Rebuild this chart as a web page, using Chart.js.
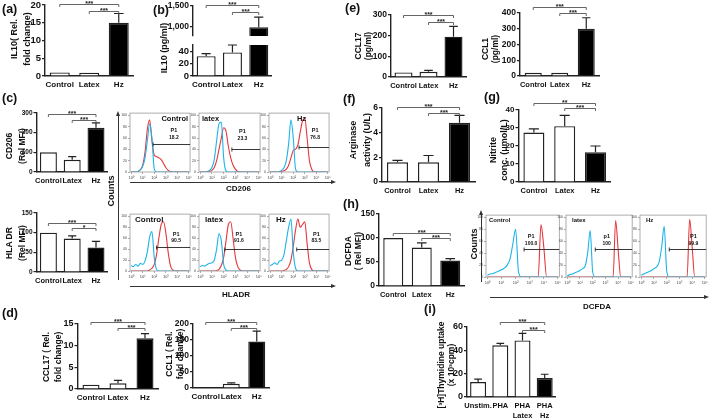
<!DOCTYPE html>
<html>
<head>
<meta charset="utf-8">
<script src="https://cdn.jsdelivr.net/npm/chart.js@4.4.1/dist/chart.umd.min.js"></script>
<style>
body { margin: 0; background: #fff; }
#fig { position: relative; width: 709px; height: 418px; overflow: hidden; font-family: "Liberation Sans", Arial, sans-serif; font-weight: bold; color: #111; }
#fig canvas { position: absolute; }
.txt { position: absolute; white-space: nowrap; line-height: 1; }
.ytitle { position: absolute; transform: translate(-50%, -50%) rotate(-90deg); text-align: center; white-space: nowrap; }
.ln { position: absolute; }
</style>
</head>
<body>
<div id="fig"></div>
<script>
// ---- data ----
const groups = ['Control', 'Latex', 'Hz'];
const il10Fold = [1.0, 0.9, 15.0];
const il10FoldSem = [0, 0, 2.6];
const il10Pg = [32, 38, 980];
const il10PgSem = [4, 12, 250];
const cd206Mfi = [100, 62, 225];
const cd206Sem = [0, 16, 25];
const hladrMfi = [100, 85, 62];
const hladrSem = [0, 7, 16];
const ccl17Fold = [1.0, 1.3, 11.7];
const ccl17FoldSem = [0, 0.7, 1.1];
const ccl1Fold = [1, 13, 145];
const ccl1FoldSem = [0, 3, 33];
const ccl17Pg = [22, 25, 195];
const ccl17PgSem = [0, 7, 50];
const ccl1Pg = [20, 20, 300];
const ccl1PgSem = [0, 0, 70];
const arginase = [1.6, 1.6, 4.8];
const arginaseSem = [0.15, 0.55, 0.6];
const nitrite = [27.5, 31, 16.5];
const nitriteSem = [2, 6, 3.5];
const dcfdaMfi = [100, 80, 53];
const dcfdaSem = [0, 10, 4];
const thymGroups = [['Unstim.'], ['PHA'], ['PHA', 'Latex'], ['PHA', 'Hz']];
const thymidine = [12.8, 44.3, 48.5, 16.2];
const thymidineSem = [2.5, 1.7, 6, 3.3];
const fills3 = ['#fff', '#fff', '#000'];
const fills4 = ['#fff', '#fff', '#fff', '#000'];

// significance brackets: [from group, to group, height in axis units, label]
const aSig = [[0, 2, 20.2, '***'], [1, 2, 18.4, '***']];
const bSig = [[0, 2, 1525, '***'], [1, 2, 1345, '***']];
const cd206Sig = [[0, 2, 295, '***'], [1, 2, 264, '***']];
const hladrSig = [[0, 2, 125, '***'], [1, 2, 112, '*']];
const dFoldSig17 = [[0, 2, 15.5, '***'], [1, 2, 14.1, '***']];
const dFoldSig1 = [[0, 2, 206, '***'], [1, 2, 187, '***']];
const eSig17 = [[0, 2, 300, '***'], [1, 2, 266, '***']];
const eSig1 = [[0, 2, 438, '***'], [1, 2, 400, '***']];
const fSig = [[0, 2, 6.08, '***'], [1, 2, 5.6, '***']];
const gSig = [[0, 2, 43.9, '**'], [1, 2, 41.1, '***']];
const hSig = [[0, 2, 110, '***'], [1, 2, 101, '***']];
const iSig = [[1, 3, 64.3, '***'], [2, 3, 57.4, '***']];

// flow cytometry histograms (% of max), log decades 10^0..10^5
const decades = [0, 0.2, 0.4, 0.6, 0.8, 1, 1.2, 1.4, 1.6, 1.8, 2, 2.2, 2.4, 2.6, 2.8, 3, 3.2, 3.4, 3.6, 3.8, 4, 4.2, 4.4, 4.6, 4.8, 5];
const cd206CtrlBlue = [0, 0, 0, 1, 4, 10, 25, 55, 85, 60, 5, 0, 0, 0, 0, 0, 0, 0, 0, 0, 0, 0, 0, 0, 0, 0];
const cd206CtrlRed = [0, 0, 0, 1, 4, 12, 35, 75, 92, 55, 30, 27, 25, 22, 15, 8, 3, 1, 0, 0, 0, 0, 0, 0, 0, 0];
const cd206LatBlue = [0, 0, 0, 1, 3, 8, 22, 55, 85, 88, 25, 2, 0, 0, 0, 0, 0, 0, 0, 0, 0, 0, 0, 0, 0, 0];
const cd206LatRed = [0, 0, 0, 0, 1, 3, 8, 20, 40, 60, 78, 72, 45, 25, 12, 5, 1, 0, 0, 0, 0, 0, 0, 0, 0, 0];
const cd206HzBlue = [0, 0, 0, 0, 1, 3, 8, 20, 50, 92, 60, 5, 0, 0, 0, 0, 0, 0, 0, 0, 0, 0, 0, 0, 0, 0];
const cd206HzRed = [0, 0, 0, 0, 0, 1, 2, 5, 12, 25, 38, 40, 48, 70, 90, 95, 60, 20, 5, 0, 0, 0, 0, 0, 0, 0];
const hladrCtrlBlue = [10, 8, 12, 9, 14, 12, 18, 35, 62, 72, 25, 3, 0, 0, 0, 0, 0, 0, 0, 0, 0, 0, 0, 0, 0, 0];
const hladrCtrlRed = [0, 0, 0, 0, 0, 0, 0, 0, 2, 5, 12, 30, 60, 85, 90, 70, 35, 10, 2, 0, 0, 0, 0, 0, 0, 0];
const hladrLatBlue = [8, 10, 9, 12, 14, 15, 20, 40, 68, 55, 12, 2, 0, 0, 0, 0, 0, 0, 0, 0, 0, 0, 0, 0, 0, 0];
const hladrLatRed = [0, 0, 0, 0, 0, 0, 0, 1, 3, 10, 25, 55, 85, 90, 60, 25, 8, 2, 0, 0, 0, 0, 0, 0, 0, 0];
const hladrHzBlue = [10, 12, 15, 12, 18, 20, 30, 55, 80, 95, 35, 5, 0, 0, 0, 0, 0, 0, 0, 0, 0, 0, 0, 0, 0, 0];
const hladrHzRed = [0, 0, 0, 0, 0, 0, 1, 3, 8, 20, 45, 75, 95, 80, 85, 90, 50, 15, 3, 0, 0, 0, 0, 0, 0, 0];
const dcfdaCtrlBlue = [3, 5, 6, 8, 10, 12, 15, 20, 30, 55, 80, 10, 0, 0, 0, 0, 0, 0, 0, 0, 0, 0, 0, 0, 0, 0];
const dcfdaCtrlRed = [0, 0, 0, 0, 0, 0, 0, 0, 0, 0, 0, 0, 0, 0, 0, 0, 0, 0, 0, 88, 50, 0, 0, 0, 0, 0];
const dcfdaLatBlue = [2, 4, 5, 7, 9, 11, 14, 18, 40, 78, 8, 0, 0, 0, 0, 0, 0, 0, 0, 0, 0, 0, 0, 0, 0, 0];
const dcfdaLatRed = [0, 0, 0, 0, 0, 0, 0, 0, 0, 0, 0, 0, 0, 0, 0, 0, 0, 0, 0, 95, 45, 0, 0, 0, 0, 0];
const dcfdaHzBlue = [3, 5, 7, 9, 11, 14, 17, 25, 50, 85, 10, 0, 0, 0, 0, 0, 0, 0, 0, 0, 0, 0, 0, 0, 0, 0];
const dcfdaHzRed = [0, 0, 0, 0, 0, 0, 0, 0, 0, 0, 0, 0, 0, 0, 0, 0, 0, 0, 0, 97, 50, 0, 0, 0, 0, 0];

const FONT = '"Liberation Sans", Arial, sans-serif';
const fig = document.getElementById('fig');
const sup = ['⁰', '¹', '²', '³', '⁴', '⁵'];

// error bars + significance brackets
const extras = {
    id: 'extras',
    afterDatasetsDraw(chart, args, opt) {
        const ctx = chart.ctx;
        const ys = chart.scales.y, xs = chart.scales.x;
        const meta = chart.getDatasetMeta(0);
        const vals = chart.data.datasets[0].data;
        ctx.save();
        ctx.strokeStyle = '#222';
        ctx.lineWidth = 1.2;
        (opt.sem || []).forEach((s, i) => {
            if (!s || vals[i] == null) return;
            const bar = meta.data[i];
            const y0 = ys.getPixelForValue(vals[i]);
            const y1 = ys.getPixelForValue(vals[i] + s);
            const cw = bar.width * 0.24;
            ctx.beginPath();
            ctx.moveTo(bar.x, y0); ctx.lineTo(bar.x, y1);
            ctx.moveTo(bar.x - cw, y1); ctx.lineTo(bar.x + cw, y1);
            ctx.stroke();
        });
        ctx.strokeStyle = '#555';
        ctx.lineWidth = 0.9;
        ctx.fillStyle = '#222';
        ctx.font = 'bold 7px ' + FONT;
        ctx.textAlign = 'center';
        ctx.textBaseline = 'bottom';
        (opt.sig || []).forEach(([a, b, v, label]) => {
            const xa = xs.getPixelForValue(a), xb = xs.getPixelForValue(b);
            const y = Math.round(ys.getPixelForValue(v)) + 0.5;
            ctx.beginPath();
            ctx.moveTo(xa, y + 2.5); ctx.lineTo(xa, y); ctx.lineTo(xb, y); ctx.lineTo(xb, y + 2.5);
            ctx.stroke();
            ctx.fillText(label, (xa + xb) / 2, y + 3);
        });
        ctx.restore();
    }
};
Chart.register(extras);

function addCanvas(left, top, w, h) {
    const cv = document.createElement('canvas');
    cv.width = w; cv.height = h;
    cv.style.left = left + 'px'; cv.style.top = top + 'px';
    fig.appendChild(cv);
    return cv;
}

function barChart(o) {
    const padL = 34, padT = 16, padR = 6, padB = o.padB || 20;
    const plotL = o.axisX, plotR = o.axisX + o.spacing * o.cats.length;
    const left = Math.floor(plotL - padL), top = Math.floor(o.top - padT);
    const w = Math.ceil(plotR + padR - left), h = Math.ceil(o.bottom + padB - top);
    const cv = addCanvas(left, top, w, h);
    new Chart(cv, {
        type: 'bar',
        data: {
            labels: o.cats,
            datasets: [{
                data: o.vals,
                backgroundColor: o.fills,
                borderColor: '#222',
                borderWidth: 1.4,
                barPercentage: o.barW / o.spacing,
                categoryPercentage: 1
            }]
        },
        options: {
            responsive: false,
            animation: false,
            devicePixelRatio: 1,
            layout: { padding: { left: 0, top: o.top - top, right: left + w - plotR, bottom: 0 } },
            scales: {
                x: {
                    grid: { display: false, drawTicks: false },
                    border: { display: !o.noX, color: '#222', width: 1.4 },
                    ticks: {
                        display: !o.noX, color: '#111', padding: 4, maxRotation: 0, autoSkip: false,
                        font: { family: FONT, weight: 'bold', size: o.xFont || 8, lineHeight: 1.3 }
                    },
                    afterFit: s => { s.height = top + h - o.bottom; }
                },
                y: {
                    min: o.min, max: o.max,
                    grid: { drawOnChartArea: false, drawTicks: true, tickLength: 3, color: '#222', lineWidth: 1.2 },
                    border: { color: '#222', width: 1.4 },
                    ticks: {
                        color: '#111', padding: 1,
                        font: { family: FONT, weight: 'bold', size: o.yFont || 8.5 },
                        callback: v => v.toLocaleString('en-US')
                    },
                    afterBuildTicks: s => { s.ticks = o.ticks.map(v => ({ value: v })); },
                    afterFit: s => { s.width = plotL - left; }
                }
            },
            plugins: {
                legend: { display: false },
                tooltip: { enabled: false },
                extras: { sem: o.sem, sig: o.sig }
            }
        }
    });
}

// histogram frame, tube label, gate and P1 text
const histDeco = {
    id: 'histDeco',
    afterDraw(chart, args, o) {
        if (!o || !o.gate) return;
        const ctx = chart.ctx, a = chart.chartArea;
        const xs = chart.scales.x, ys = chart.scales.y;
        ctx.save();
        ctx.strokeStyle = '#9a9a9a';
        ctx.lineWidth = 0.8;
        ctx.strokeRect(a.left, a.top, a.right - a.left, a.bottom - a.top);
        ctx.fillStyle = '#111';
        ctx.font = 'bold ' + o.labSize + 'px ' + FONT;
        ctx.textBaseline = 'top';
        ctx.textAlign = o.labAlign;
        ctx.fillText(o.label, o.labAlign === 'right' ? a.right - 2 : a.left + o.labDx, a.top + 2);
        const gx = xs.getPixelForValue(o.gate[0]);
        const gy = Math.round(ys.getPixelForValue(o.gate[1])) + 0.5;
        ctx.strokeStyle = '#222';
        ctx.lineWidth = 0.9;
        ctx.beginPath();
        ctx.moveTo(gx, gy); ctx.lineTo(a.right, gy);
        ctx.moveTo(gx, gy - 2); ctx.lineTo(gx, gy + 2);
        ctx.stroke();
        ctx.font = 'bold 5.5px ' + FONT;
        ctx.textAlign = 'center';
        const px = xs.getPixelForValue(o.p1[0]), py = ys.getPixelForValue(o.p1[1]);
        ctx.fillText(o.p1Name, px, py);
        ctx.font = 'bold 5px ' + FONT;
        ctx.fillText(o.p1Val, px, py + 7);
        ctx.restore();
    }
};
Chart.register(histDeco);

function histChart(o) {
    const padL = 11, padT = 2, padR = 2, padB = 9;
    const left = o.x0 - padL, top = o.y0 - padT;
    const w = o.x1 - o.x0 + padL + padR, h = o.y1 - o.y0 + padT + padB;
    const cv = addCanvas(left, top, w, h);
    const curve = (ys, color) => ({
        data: decades.map((d, i) => ({ x: d, y: ys[i] })),
        borderColor: color, borderWidth: 1.1, pointRadius: 0,
        cubicInterpolationMode: 'monotone', fill: false
    });
    new Chart(cv, {
        type: 'line',
        data: { datasets: [curve(o.blue, '#1db4ea'), curve(o.red, '#e5383b')] },
        options: {
            responsive: false,
            animation: false,
            devicePixelRatio: 1,
            layout: { padding: { left: 0, top: padT, right: padR, bottom: 0 } },
            scales: {
                x: {
                    type: 'linear', min: -0.1, max: 5.1,
                    grid: { drawOnChartArea: false, tickLength: 2, color: '#777', lineWidth: 0.6 },
                    border: { display: false },
                    ticks: { color: '#444', padding: 1, font: { family: FONT, size: 4 }, callback: v => '10' + sup[v] },
                    afterBuildTicks: s => { s.ticks = [0, 1, 2, 3, 4, 5].map(v => ({ value: v })); },
                    afterFit: s => { s.height = padB; }
                },
                y: {
                    min: 0, max: 104,
                    grid: { drawOnChartArea: false, tickLength: 2, color: '#777', lineWidth: 0.6 },
                    border: { display: false },
                    ticks: { color: '#444', padding: 1, font: { family: FONT, size: 3.5 } },
                    afterBuildTicks: s => { s.ticks = [0, 20, 40, 60, 80, 100].map(v => ({ value: v })); },
                    afterFit: s => { s.width = padL; }
                }
            },
            plugins: { legend: { display: false }, tooltip: { enabled: false }, histDeco: o }
        }
    });
}

// ---- bar panels ----
barChart({ cats: groups, vals: il10Fold, sem: il10FoldSem, fills: fills3, sig: aSig, axisX: 45, spacing: 29.5, barW: 20, top: 5, bottom: 76, min: 0, max: 20, ticks: [0, 5, 10, 15, 20], yFont: 9.5 });
// (b) broken axis: upper and lower segments
barChart({ cats: groups, vals: il10Pg.map(v => v > 772 ? v : null), sem: il10PgSem.map((s, i) => il10Pg[i] > 772 ? s : 0), fills: fills3, sig: bSig, axisX: 193, spacing: 26.3, barW: 19, top: 6, bottom: 38, min: 772, max: 1500, ticks: [1000, 1500], noX: true, padB: 4, yFont: 8.5 });
barChart({ cats: groups, vals: il10Pg, sem: il10PgSem.map((s, i) => il10Pg[i] > 50 ? 0 : s), fills: fills3, axisX: 193, spacing: 26.3, barW: 19, top: 45, bottom: 76, min: 0, max: 50, ticks: [0, 20, 40], yFont: 9.5 });
barChart({ cats: groups, vals: cd206Mfi, sem: cd206Sem, fills: fills3, sig: cd206Sig, axisX: 36.5, spacing: 23.8, barW: 17, top: 113, bottom: 172, min: 0, max: 300, ticks: [0, 100, 200, 300], yFont: 6.5, xFont: 7.5 });
barChart({ cats: groups, vals: hladrMfi, sem: hladrSem, fills: fills3, sig: hladrSig, axisX: 36.5, spacing: 23.8, barW: 17, top: 213, bottom: 272, min: 0, max: 150, ticks: [0, 50, 100, 150], yFont: 6.5, xFont: 7.5 });
barChart({ cats: groups, vals: ccl17Fold, sem: ccl17FoldSem, fills: fills3, sig: dFoldSig17, axisX: 77.5, spacing: 27, barW: 17, top: 324, bottom: 389, min: 0, max: 15, ticks: [0, 5, 10, 15], yFont: 9 });
barChart({ cats: groups, vals: ccl1Fold, sem: ccl1FoldSem, fills: fills3, sig: dFoldSig1, axisX: 193, spacing: 25.5, barW: 17, top: 324, bottom: 388, min: 0, max: 200, ticks: [0, 50, 100, 150, 200], yFont: 8.5 });
barChart({ cats: groups, vals: ccl17Pg, sem: ccl17PgSem, fills: fills3, sig: eSig17, axisX: 391, spacing: 25, barW: 18, top: 15, bottom: 77, min: 0, max: 300, ticks: [0, 100, 200, 300], yFont: 8.5, xFont: 7.5 });
barChart({ cats: groups, vals: ccl1Pg, sem: ccl1PgSem, fills: fills3, sig: eSig1, axisX: 520, spacing: 26.5, barW: 17, top: 13, bottom: 76, min: 0, max: 400, ticks: [0, 100, 200, 300, 400], yFont: 8.5, xFont: 7.5 });
barChart({ cats: groups, vals: arginase, sem: arginaseSem, fills: fills3, sig: fSig, axisX: 382, spacing: 31, barW: 21, top: 108, bottom: 182, min: 0, max: 6, ticks: [0, 2, 4, 6], yFont: 8.5, xFont: 7.5 });
barChart({ cats: groups, vals: nitrite, sem: nitriteSem, fills: fills3, sig: gSig, axisX: 518.5, spacing: 30.8, barW: 21, top: 110, bottom: 182, min: 0, max: 40, ticks: [0, 10, 20, 30, 40], yFont: 8, xFont: 7.5 });
barChart({ cats: groups, vals: dcfdaMfi, sem: dcfdaSem, fills: fills3, sig: hSig, axisX: 379, spacing: 28.5, barW: 20, top: 214, bottom: 286, min: 0, max: 150, ticks: [0, 50, 100, 150], yFont: 8.5, xFont: 7.5 });
barChart({ cats: thymGroups, vals: thymidine, sem: thymidineSem, fills: fills4, sig: iSig, axisX: 467, spacing: 22.2, barW: 16, top: 327, bottom: 397, min: 0, max: 60, ticks: [0, 20, 40, 60], yFont: 9, xFont: 7.5, padB: 22 });

// ---- flow cytometry panels ----
const rowC = [[130, 191], [199, 261], [269, 330]];
const rowH = [[486, 560], [566, 633], [640, 707]];
histChart({ x0: rowC[0][0], x1: rowC[0][1], y0: 112, y1: 172, blue: cd206CtrlBlue, red: cd206CtrlRed, label: 'Control', labAlign: 'right', labDx: 0, labSize: 7.5, gate: [1.9, 50], p1: [3.7, 78], p1Name: 'P1', p1Val: '18.2' });
histChart({ x0: rowC[1][0], x1: rowC[1][1], y0: 112, y1: 172, blue: cd206LatBlue, red: cd206LatRed, label: 'latex', labAlign: 'left', labDx: 3, labSize: 7.5, gate: [2.7, 40], p1: [3.6, 76], p1Name: 'P1', p1Val: '23.3' });
histChart({ x0: rowC[2][0], x1: rowC[2][1], y0: 112, y1: 172, blue: cd206HzBlue, red: cd206HzRed, label: 'Hz', labAlign: 'left', labDx: 28, labSize: 7.5, gate: [2.5, 45], p1: [3.9, 78], p1Name: 'P1', p1Val: '76.8' });
histChart({ x0: rowC[0][0], x1: rowC[0][1], y0: 213, y1: 271, blue: hladrCtrlBlue, red: hladrCtrlRed, label: 'Control', labAlign: 'left', labDx: 5, labSize: 8, gate: [2.2, 44], p1: [3.9, 72], p1Name: 'P1', p1Val: '90.5' });
histChart({ x0: rowC[1][0], x1: rowC[1][1], y0: 213, y1: 271, blue: hladrLatBlue, red: hladrLatRed, label: 'latex', labAlign: 'left', labDx: 6, labSize: 8, gate: [2.1, 40], p1: [3.3, 72], p1Name: 'P1', p1Val: '91.6' });
histChart({ x0: rowC[2][0], x1: rowC[2][1], y0: 213, y1: 271, blue: hladrHzBlue, red: hladrHzRed, label: 'Hz', labAlign: 'left', labDx: 7, labSize: 8, gate: [2.3, 40], p1: [4.0, 72], p1Name: 'P1', p1Val: '83.5' });
histChart({ x0: rowH[0][0], x1: rowH[0][1], y0: 214, y1: 277, blue: dcfdaCtrlBlue, red: dcfdaCtrlRed, label: 'Control', labAlign: 'left', labDx: 3, labSize: 6, gate: [2.6, 47], p1: [3.1, 72], p1Name: 'P1', p1Val: '100.0' });
histChart({ x0: rowH[1][0], x1: rowH[1][1], y0: 214, y1: 277, blue: dcfdaLatBlue, red: dcfdaLatRed, label: 'latex', labAlign: 'left', labDx: 6, labSize: 6, gate: [2.2, 47], p1: [3.1, 72], p1Name: 'p1', p1Val: '100' });
histChart({ x0: rowH[2][0], x1: rowH[2][1], y0: 214, y1: 277, blue: dcfdaHzBlue, red: dcfdaHzRed, label: 'Hz', labAlign: 'left', labDx: 6, labSize: 6, gate: [2.2, 47], p1: [4.1, 72], p1Name: 'P1', p1Val: '99.9' });

// ---- text and arrows ----
function text(str, x, y, size, cls) {
    const d = document.createElement('div');
    d.className = cls || 'txt';
    d.style.left = x + 'px'; d.style.top = y + 'px';
    d.style.fontSize = size + 'px';
    d.innerHTML = str;
    fig.appendChild(d);
    return d;
}
function yTitle(str, cx, cy, size, lh) {
    const d = text(str, cx, cy, size, 'ytitle');
    d.style.lineHeight = lh + 'px';
}
function arrowRight(x1, x2, y) {
    const l = document.createElement('div');
    l.className = 'ln';
    l.style.cssText = `left:${x1}px;top:${y}px;width:${x2 - x1 - 4}px;border-top:1.3px solid #333;`;
    fig.appendChild(l);
    const t = document.createElement('div');
    t.className = 'ln';
    t.style.cssText = `left:${x2 - 5}px;top:${y - 2.2}px;width:0;height:0;border-left:5px solid #333;border-top:2.8px solid transparent;border-bottom:2.8px solid transparent;`;
    fig.appendChild(t);
}
function arrowUp(x, y1, y2) {
    const l = document.createElement('div');
    l.className = 'ln';
    l.style.cssText = `left:${x}px;top:${y1 + 4}px;height:${y2 - y1 - 4}px;border-left:1.3px solid #333;`;
    fig.appendChild(l);
    const t = document.createElement('div');
    t.className = 'ln';
    t.style.cssText = `left:${x - 2.2}px;top:${y1}px;width:0;height:0;border-bottom:5px solid #333;border-left:2.8px solid transparent;border-right:2.8px solid transparent;`;
    fig.appendChild(t);
}

[['(a)', 2, 3], ['(b)', 153, 4], ['(c)', 2, 92], ['(d)', 2, 307], ['(e)', 345, 2], ['(f)', 343, 93],
 ['(g)', 484, 91], ['(h)', 343, 198], ['(i)', 424, 303]].forEach(([s, x, y]) => text(s, x, y, 12.5));

yTitle('IL10( Rel.<br>fold change)', 21, 39, 9, 13);
yTitle('IL10 (pg/ml)', 164, 48, 9, 11);
yTitle('CD206<br>(Rel MFI)', 16, 146, 8.5, 13);
yTitle('HLA DR<br>(Rel MFI)', 16, 243, 8.5, 13);
yTitle('CCL17 ( Rel.<br>fold change)', 52, 357, 8.5, 12);
yTitle('CCL1 ( Rel.<br>fold change)', 175, 354, 8.5, 11);
yTitle('CCL17<br>(pg/ml)', 363, 46, 8.5, 10);
yTitle('CCL1<br>(pg/ml)', 490, 49, 8.5, 10);
yTitle('Arginase<br>activity (U/L)', 360, 140, 9, 14);
yTitle('Nitrite<br>conc. (μmol/L)', 499, 150, 9, 11);
yTitle('DCFDA<br>( Rel MFI)', 353, 251, 8.5, 10);
yTitle('[³H]Thymidine uptake<br>(x 10³cpm)', 446, 365, 8.5, 10);

arrowRight(130, 336, 182);
arrowRight(130, 336, 286);
arrowUp(118, 111, 280);
arrowRight(490, 709, 297);
arrowUp(481, 210, 282);
yTitle('Counts', 111, 191, 9, 10);
yTitle('Counts', 474, 244, 9, 10);
text('CD206', 226, 185, 8);
text('HLADR', 222, 291, 8);
text('DCFDA', 583, 303, 8);
</script>
</body>
</html>
